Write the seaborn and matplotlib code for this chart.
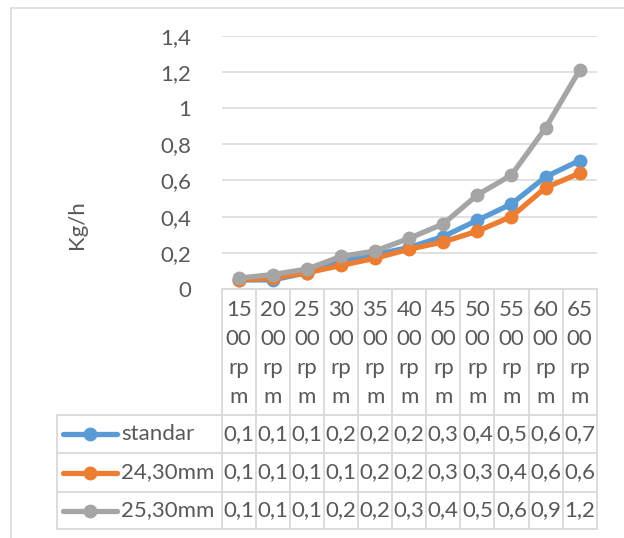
import pandas as pd
import matplotlib
matplotlib.use("Agg")
import matplotlib.pyplot as plt
from matplotlib.lines import Line2D
import seaborn as sns

categories = ["1500 rpm", "2000 rpm", "2500 rpm", "3000 rpm", "3500 rpm", "4000 rpm",
              "4500 rpm", "5000 rpm", "5500 rpm", "6000 rpm", "6500 rpm"]
series_names = ["standar", "24,30mm", "25,30mm"]
standar = [0.05, 0.05, 0.09, 0.16, 0.19, 0.23, 0.29, 0.38, 0.47, 0.62, 0.71]
mm_24_30 = [0.05, 0.06, 0.09, 0.13, 0.17, 0.22, 0.26, 0.32, 0.40, 0.56, 0.64]
mm_25_30 = [0.06, 0.08, 0.11, 0.18, 0.21, 0.28, 0.36, 0.52, 0.63, 0.89, 1.21]
y_ticks = [0, 0.2, 0.4, 0.6, 0.8, 1.0, 1.2, 1.4]
colors = ["#5B9BD5", "#ED7D31", "#A5A5A5"]

values = [standar, mm_24_30, mm_25_30]
df = pd.DataFrame({
    "rpm": categories * 3,
    "serie": [s for s in series_names for _ in categories],
    "kgh": [v for vals in values for v in vals],
})

sns.set_style("white")
plt.rcParams["font.family"] = ["Lato", "DejaVu Sans"]
txt_color = "#595959"
grid_color = "#D9D9D9"
fs = 16

W, H = 624, 538
fig = plt.figure(figsize=(W / 100, H / 100), dpi=100)

# plot area in pixel coords
ax_l, ax_r, ax_t, ax_b = 221.7, 596.7, 35.7, 289.0
ax = fig.add_axes([ax_l / W, 1 - ax_b / H, (ax_r - ax_l) / W, (ax_b - ax_t) / H])

sns.lineplot(data=df, x="rpm", y="kgh", hue="serie", palette=colors, marker="o",
             markersize=10, markeredgewidth=0, linewidth=3.8, sort=False,
             legend=False, ax=ax)

ax.set_xlim(-0.5, len(categories) - 0.5)
ax.set_ylim(0, 1.4)
ax.set_yticks(y_ticks)
ax.set_yticklabels([("%g" % t).replace(".", ",") for t in y_ticks],
                   fontsize=fs, color=txt_color)
ax.tick_params(axis="y", length=0, pad=22)
ax.set_xticks([])
ax.set_xlabel("")
ax.set_ylabel("")
ax.grid(axis="y", color=grid_color, linewidth=1.1)
for sp in ax.spines.values():
    sp.set_visible(False)

fig.text(76.7 / W, 1 - 225 / H, "Kg/h", rotation=90, ha="center", va="center",
         fontsize=fs, color=txt_color)


def hline(x0, x1, y, lw=1.3, c=grid_color):
    fig.add_artist(Line2D([x0 / W, x1 / W], [1 - y / H, 1 - y / H], color=c, lw=lw))


def vline(x, y0, y1, lw=1.3, c=grid_color):
    fig.add_artist(Line2D([x / W, x / W], [1 - y0 / H, 1 - y1 / H], color=c, lw=lw))


# outer chart border (top and left visible)
hline(11, W, 7.5, lw=1.1)
vline(11, 7.5, H, lw=1.1)

# data table
n = len(categories)
col_w = (ax_r - ax_l) / n
leg_l = 56.7
head_t = ax_b
rows_y = [415.0, 453.3, 491.7, 529.3]

hline(ax_l, ax_r, head_t)
for y in rows_y:
    hline(leg_l, ax_r, y)
for k in range(n + 1):
    vline(ax_l + k * col_w, head_t, rows_y[-1])
vline(leg_l, rows_y[0], rows_y[-1])

# header text: category wrapped in narrow cells
head_lines = [310, 339, 368, 397]
for i, cat in enumerate(categories):
    s = cat.replace(" ", "")
    parts = [s[j:j + 2] for j in range(0, len(s), 2)]
    cx = ax_l + (i + 0.5) * col_w
    for p, y in zip(parts, head_lines):
        fig.text(cx / W, 1 - y / H, p, ha="center", va="center", fontsize=fs, color=txt_color)


def fmt(v):
    return ("%.1f" % (v + 1e-9)).replace(".", ",")


for r, (name, vals, c) in enumerate(zip(series_names, values, colors)):
    cy = (rows_y[r] + rows_y[r + 1]) / 2
    fig.add_artist(Line2D([63 / W, 117 / W], [1 - cy / H] * 2, color=c, lw=3.8,
                          solid_capstyle="round"))
    fig.add_artist(Line2D([90 / W], [1 - cy / H], marker="o", markersize=10,
                          color=c, markeredgewidth=0))
    fig.text(121 / W, 1 - cy / H, name, ha="left", va="center", fontsize=fs, color=txt_color)
    for i, v in enumerate(vals):
        cx = ax_l + (i + 0.5) * col_w
        fig.text(cx / W, 1 - cy / H, fmt(v), ha="center", va="center",
                 fontsize=fs, color=txt_color)

fig.savefig("out.png", dpi=100)
